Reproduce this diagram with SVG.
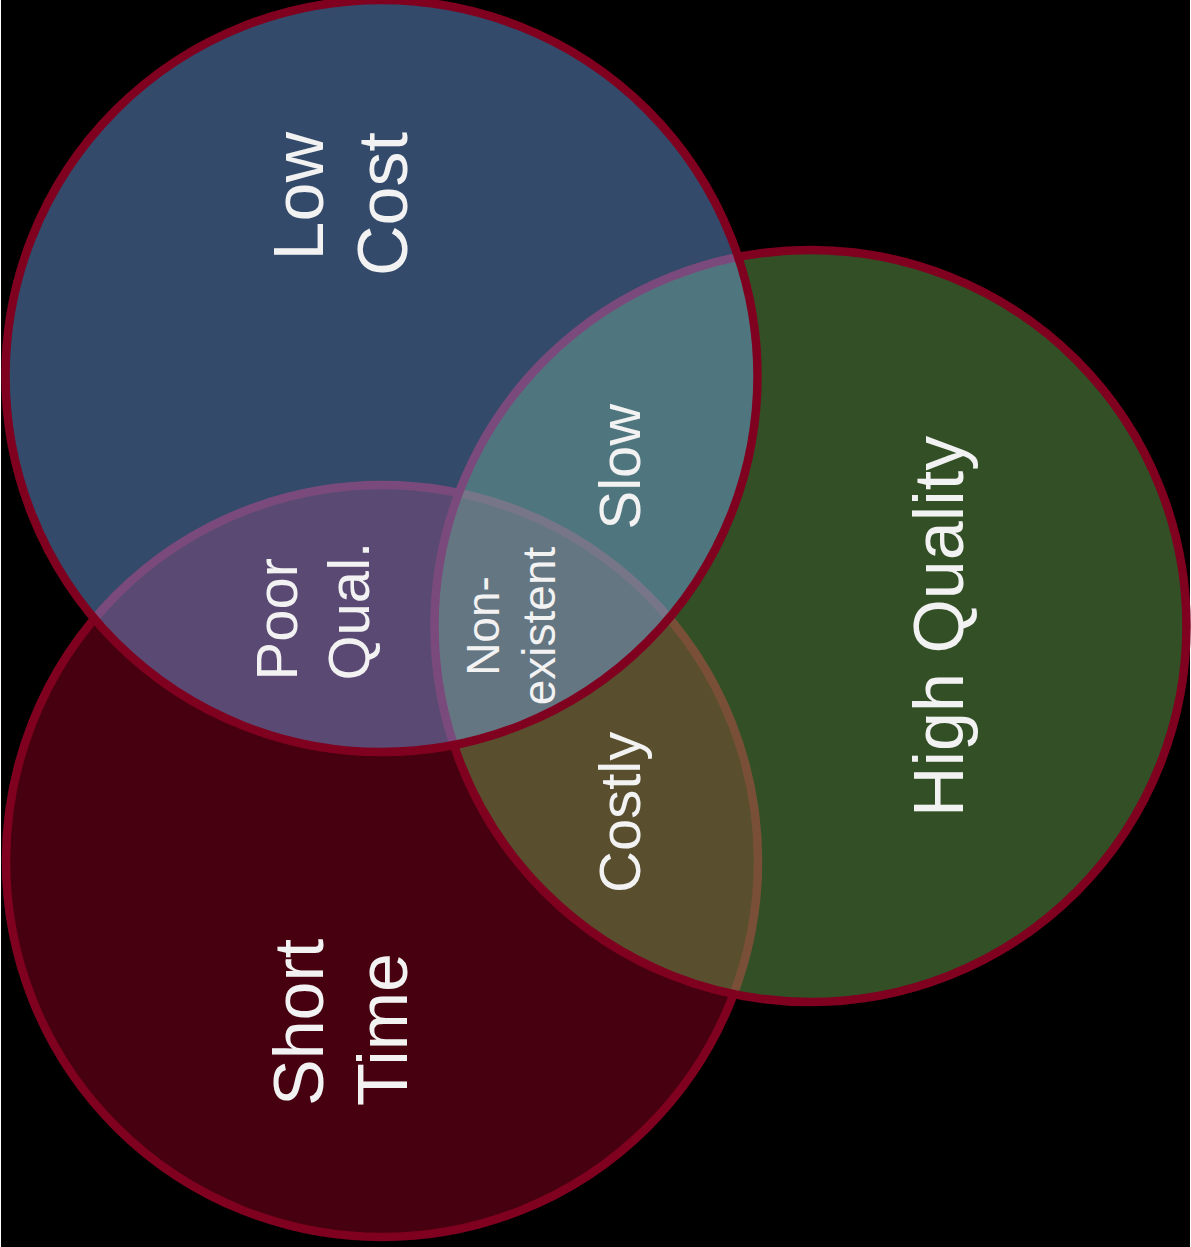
<svg xmlns="http://www.w3.org/2000/svg" width="1191" height="1247" viewBox="0 0 1191 1247">
  <style>
    .ring { stroke: #800020; stroke-width: 8.5; }
    .lbl { font-family: "Liberation Sans", Arial, sans-serif; fill: #f2f2f2; }
    .big { font-size: 70px; }
    .mid { font-size: 58px; }
    .small { font-size: 46px; }
  </style>
  <rect x="0" y="0" width="1191" height="1247" fill="#ffffff"/>
  <rect x="1" y="0" width="1189" height="1247" fill="#000000"/>

  <g id="short-time">
    <circle class="ring" cx="382" cy="861" r="376" fill="#460010"/>
  </g>
  <g id="high-quality">
    <circle class="ring" cx="810.5" cy="626" r="376" fill="#71b054" fill-opacity="0.45"/>
  </g>
  <g id="low-cost">
    <circle class="ring" cx="381.5" cy="376" r="376" fill="#74a8f1" fill-opacity="0.44"/>
  </g>

  <g id="labels">
    <g id="low-cost-label">
      <text class="lbl big" text-anchor="end" transform="translate(323,132) rotate(-90)">Low</text>
      <text class="lbl big" text-anchor="end" transform="translate(407,132) rotate(-90)">Cost</text>
    </g>
    <g id="short-time-label">
      <text class="lbl big" text-anchor="start" transform="translate(323,1106) rotate(-90)">Short</text>
      <text class="lbl big" text-anchor="start" transform="translate(407,1106) rotate(-90)">Time</text>
    </g>
    <g id="high-quality-label">
      <text class="lbl big" text-anchor="start" transform="translate(963,817) rotate(-90)">High Quality</text>
    </g>
    <g id="poor-qual">
      <text class="lbl mid" text-anchor="start" transform="translate(297,680.5) rotate(-90)">Poor</text>
      <text class="lbl mid" text-anchor="start" transform="translate(368.5,680.5) rotate(-90)">Qual.</text>
    </g>
    <g id="slow">
      <text class="lbl mid" text-anchor="start" transform="translate(640,529.5) rotate(-90)">Slow</text>
    </g>
    <g id="costly">
      <text class="lbl mid" text-anchor="start" transform="translate(640,893) rotate(-90)">Costly</text>
    </g>
    <g id="non-existent">
      <text class="lbl small" text-anchor="middle" transform="translate(498.5,626) rotate(-90)">Non-</text>
      <text class="lbl small" text-anchor="middle" transform="translate(555,626) rotate(-90)">existent</text>
    </g>
  </g>
</svg>
